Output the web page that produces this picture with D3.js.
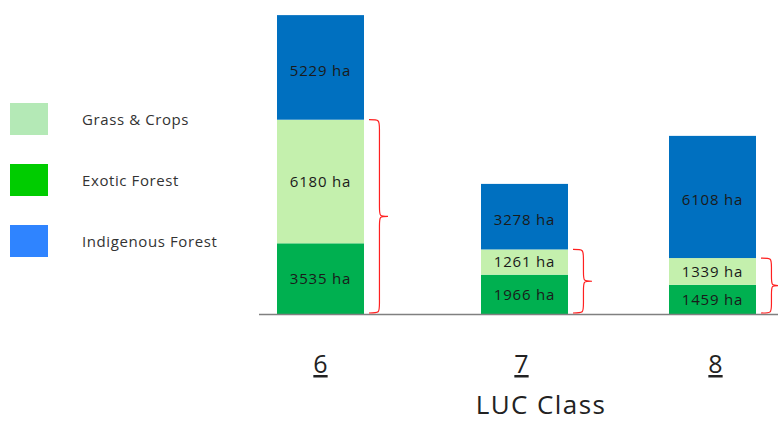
<!DOCTYPE html>
<html>
<head>
<meta charset="utf-8">
<script src="https://cdn.jsdelivr.net/npm/d3@7"></script>
<style>
  html, body { margin: 0; padding: 0; background: #fff; }
  svg { display: block; }
  text { font-family: "Open Sans", "Lato", "DejaVu Sans", sans-serif; }
</style>
</head>
<body>
<svg id="chart" width="778" height="423"></svg>
<script>
// ---- data ----
const categories = ["6", "7", "8"];
const seriesNames = ["Exotic Forest", "Grass & Crops", "Indigenous Forest"];
const exoticForest = [3535, 1966, 1459];
const grassCrops = [6180, 1261, 1339];
const indigenousForest = [5229, 3278, 6108];
const legendLabels = ["Grass & Crops", "Exotic Forest", "Indigenous Forest"];
const xAxisTitle = "LUC Class";
const unit = "ha";

// ---- layout ----
const svg = d3.select("#chart");
const baseline = 314;
const barColors = { "Exotic Forest": "#00B050", "Grass & Crops": "#C4F0AD", "Indigenous Forest": "#0070C0" };
const legendColors = { "Grass & Crops": "#B4E9B6", "Exotic Forest": "#00CC00", "Indigenous Forest": "#2F84FF" };

const x = d3.scaleOrdinal().domain(categories).range([320.5, 524.5, 712.5]);
const barWidth = 87;
const y = d3.scaleLinear().domain([0, 15000]).range([baseline, baseline - 300]);

const rows = categories.map((c, i) => ({
  cat: c,
  "Exotic Forest": exoticForest[i],
  "Grass & Crops": grassCrops[i],
  "Indigenous Forest": indigenousForest[i]
}));
const stack = d3.stack().keys(seriesNames)(rows);

// bars
const g = svg.append("g");
stack.forEach(layer => {
  g.selectAll(null).data(layer).enter().append("rect")
    .attr("x", d => x(d.data.cat) - barWidth / 2)
    .attr("y", d => y(d[1]))
    .attr("width", barWidth)
    .attr("height", d => y(d[0]) - y(d[1]))
    .attr("fill", barColors[layer.key]);
  g.selectAll(null).data(layer).enter().append("text")
    .attr("x", d => x(d.data.cat))
    .attr("y", d => (y(d[0]) + y(d[1])) / 2 + (layer.key === "Indigenous Forest" ? 3 : 0))
    .attr("dy", "0.35em")
    .attr("text-anchor", "middle")
    .attr("font-size", 15)
    .attr("letter-spacing", 0.8)
    .attr("fill", "#1a1a1a")
    .text(d => `${d.data[layer.key]} ${unit}`);
});

// baseline axis line
svg.append("line")
  .attr("x1", 259).attr("x2", 778)
  .attr("y1", baseline + 0.5).attr("y2", baseline + 0.5)
  .attr("stroke", "#808080").attr("stroke-width", 1.6);

// braces spanning Exotic + Grass
function bracePath(x0, yTop, yBot, w) {
  const mid = (yTop + yBot) / 2;
  const xm = x0 + w * 0.55;
  const xt = x0 + w;
  const r = Math.min(10, (yBot - yTop) / 6);
  return `M${x0},${yTop} C${xm},${yTop} ${xm},${yTop} ${xm},${yTop + r}` +
         ` L${xm},${mid - r} C${xm},${mid} ${xm},${mid} ${xt},${mid}` +
         ` C${xm},${mid} ${xm},${mid} ${xm},${mid + r}` +
         ` L${xm},${yBot - r} C${xm},${yBot} ${xm},${yBot} ${x0},${yBot}`;
}
rows.forEach((r, i) => {
  const top = y(r["Exotic Forest"] + r["Grass & Crops"]);
  const bot = y(0) - 1;
  const x0 = x(r.cat) + barWidth / 2 + 5;
  svg.append("path")
    .attr("d", bracePath(x0, top, bot, 19))
    .attr("fill", "none")
    .attr("stroke", "#FF2020")
    .attr("stroke-width", 1.2);
});

// category labels (underlined)
categories.forEach(c => {
  svg.append("text")
    .attr("x", x(c) + (c === "6" ? 0 : (c === "7" ? -3 : 3)))
    .attr("y", 373)
    .attr("text-anchor", "middle")
    .attr("font-size", 25)
    .attr("fill", "#222")
    .attr("text-decoration", "underline")
    .text(c);
});

// x axis title
svg.append("text")
  .attr("x", 541).attr("y", 414)
  .attr("text-anchor", "middle")
  .attr("font-size", 26)
  .attr("letter-spacing", 1.4)
  .attr("fill", "#222")
  .text(xAxisTitle);

// legend
const legend = svg.append("g");
legendLabels.forEach((name, i) => {
  const ly = 103 + i * 61;
  legend.append("rect")
    .attr("x", 10).attr("y", ly)
    .attr("width", 38).attr("height", 32)
    .attr("fill", legendColors[name]);
  legend.append("text")
    .attr("x", 82).attr("y", ly + 17)
    .attr("dy", "0.35em")
    .attr("font-size", 15)
    .attr("letter-spacing", 0.6)
    .attr("fill", "#333")
    .text(name);
});
</script>
</body>
</html>
